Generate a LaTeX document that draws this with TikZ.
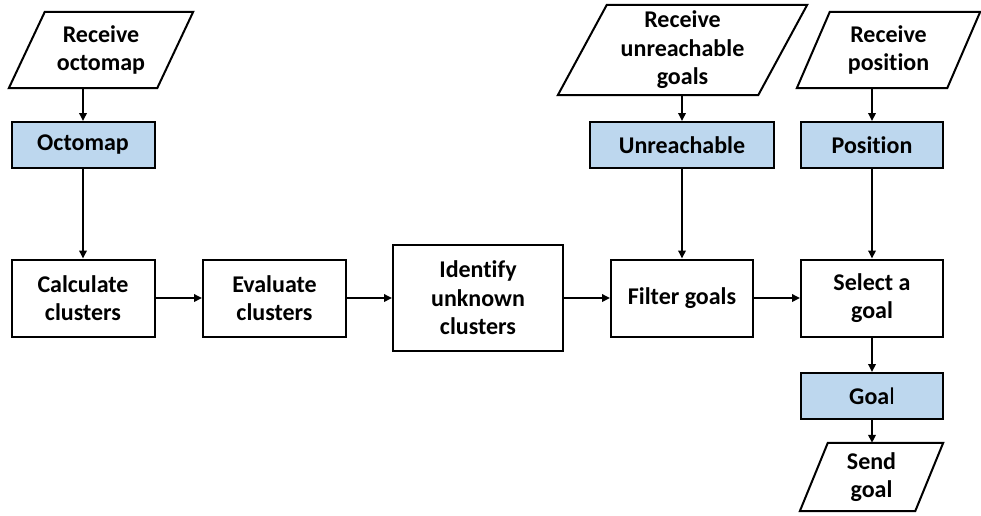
\documentclass[tikz,border=0pt]{standalone}
\usepackage{fontspec}
\setmainfont[Ligatures=NoCommon]{Carlito}
\usetikzlibrary{arrows.meta}
\definecolor{datablue}{HTML}{BDD7EE}
\begin{document}
\begin{tikzpicture}[x=1pt,y=-1pt,
  every node/.style={font=\bfseries\fontsize{24}{28.5}\selectfont, align=center, inner sep=0pt},
  proc/.style={draw, line width=2pt, rectangle, minimum height=77pt},
  data/.style={proc, fill=datablue, minimum height=46pt},
  flow/.style={line width=1.8pt, -{Triangle[length=8pt,width=7.5pt]}},
  outline/.style={line width=2pt, line join=miter}]
  \useasboundingbox (0,0) rectangle (981,515);

  % input / output parallelograms (text node + outline)
  \node[minimum width=184pt, minimum height=76pt] (rocto) at (101,50) {Receive\\octomap};
  \draw[outline] (rocto.south west) -- ([xshift=-36pt]rocto.south east) -- (rocto.north east) -- ([xshift=36pt]rocto.north west) -- cycle;

  \node[minimum width=249pt, minimum height=90pt] (runr) at (682.5,50) {Receive\\unreachable\\goals};
  \draw[outline] (runr.south west) -- ([xshift=-49pt]runr.south east) -- (runr.north east) -- ([xshift=49pt]runr.north west) -- cycle;

  \node[minimum width=183pt, minimum height=76pt] (rpos) at (888.5,50) {Receive\\position};
  \draw[outline] (rpos.south west) -- ([xshift=-33pt]rpos.south east) -- (rpos.north east) -- ([xshift=33pt]rpos.north west) -- cycle;

  \node[minimum width=143pt, minimum height=68pt] (send) at (871.5,477) {Send\\goal};
  \draw[outline] (send.south west) -- ([xshift=-28pt]send.south east) -- (send.north east) -- ([xshift=28pt]send.north west) -- cycle;

  % data stores
  \node[data, minimum width=143pt] (octo) at (83,145) {Octomap};
  \node[data, minimum width=184pt] (unr)  at (682,145) {Unreachable};
  \node[data, minimum width=142pt] (pos)  at (872,145) {Position};
  \node[data, minimum width=142pt] (goal) at (872,396) {Goa{\mdseries l}};

  % processing steps
  \node[proc, minimum width=143pt] (calc)  at (83,298) {Calculate\\clusters};
  \node[proc, minimum width=143pt] (eval)  at (274.5,298) {Evaluate\\clusters};
  \node[proc, minimum width=170pt, minimum height=106pt] (ident) at (478,298) {Identify\\unknown\\clusters};
  \node[proc, minimum width=142pt] (filt)  at (682,298) {Filter goals};
  \node[proc, minimum width=142pt] (sel)   at (872,298) {Select a\\goal};

  % connectors
  \draw[flow] (rocto.south -| octo) -- (octo.north);
  \draw[flow] (runr.south -| unr) -- (unr.north);
  \draw[flow] (rpos.south -| pos) -- (pos.north);
  \draw[flow] (octo.south) -- (calc.north);
  \draw[flow] (unr.south -| filt) -- (filt.north);
  \draw[flow] (pos.south) -- (sel.north);
  \draw[flow] (calc.east) -- (eval.west);
  \draw[flow] (eval.east) -- (ident.west);
  \draw[flow] (ident.east) -- (filt.west);
  \draw[flow] (filt.east) -- (sel.west);
  \draw[flow] (sel.south) -- (goal.north);
  \draw[flow] (goal.south) -- (send.north -| goal);
\end{tikzpicture}
\end{document}
